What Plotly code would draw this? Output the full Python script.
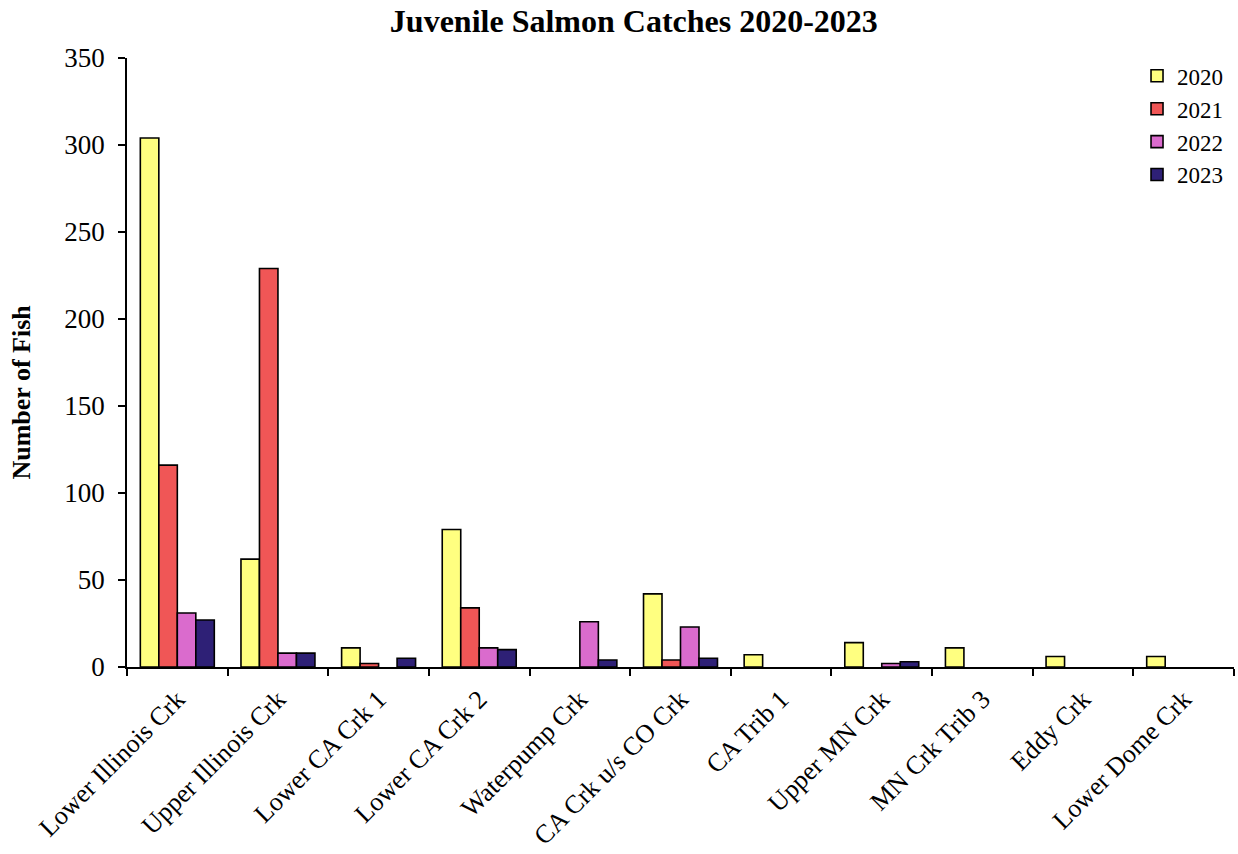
import plotly.graph_objects as go

sites = ["Lower Illinois Crk", "Upper Illinois Crk", "Lower CA Crk 1", "Lower CA Crk 2",
         "Waterpump Crk", "CA Crk u/s CO Crk", "CA Trib 1", "Upper MN Crk",
         "MN Crk Trib 3", "Eddy Crk", "Lower Dome Crk"]
y2020 = [304, 62, 11, 79, 0, 42, 7, 14, 11, 6, 6]
y2021 = [116, 229, 2, 34, 0, 4, 0, 0, 0, 0, 0]
y2022 = [31, 8, 0, 11, 26, 23, 0, 2, 0, 0, 0]
y2023 = [27, 8, 5, 10, 4, 5, 0, 3, 0, 0, 0]
years = ["2020", "2021", "2022", "2023"]
colors = ["#FFFF80", "#F05656", "#DA6BCD", "#2E2076"]

FONT = "Liberation Serif"

fig = go.Figure()
for name, vals, col in zip(years, [y2020, y2021, y2022, y2023], colors):
    fig.add_trace(go.Bar(
        x=sites, y=[v if v else None for v in vals], name=name,
        marker=dict(color=col, line=dict(color="black", width=1.6)),
    ))

fig.update_layout(
    width=1238, height=854,
    margin=dict(l=127, r=4, t=58, b=187),
    paper_bgcolor="white", plot_bgcolor="white",
    barmode="group", bargap=0.265, bargroupgap=0,
    font=dict(family=FONT, size=24, color="black"),
    title=dict(text="<b>Juvenile Salmon Catches 2020-2023</b>", x=0.512, xanchor="center",
               y=0.976, yanchor="middle", font=dict(family=FONT, size=32, color="black")),
    legend=dict(x=0.9946, xanchor="right", y=1.006, yanchor="top", bgcolor="rgba(0,0,0,0)",
                font=dict(family=FONT, size=23, color="black"), traceorder="normal",
                itemwidth=30),
    showlegend=True,
)
fig.update_xaxes(
    type="category", showline=True, linecolor="black", linewidth=1.5,
    ticks="outside", tickson="boundaries", ticklen=7, tickwidth=1.5, tickcolor="black",
    tickangle=-45, showgrid=False, tickfont=dict(family=FONT, size=26, color="black"),
    ticklabelstandoff=5,
)
fig.update_yaxes(
    range=[0, 350], dtick=50, showline=True, linecolor="black", linewidth=1.5,
    ticks="outside", ticklen=7, tickwidth=1.5, tickcolor="black", showgrid=False,
    zeroline=False, tickfont=dict(family=FONT, size=27, color="black"),
    ticklabelstandoff=8,
)
fig.add_annotation(text="<b>Number of Fish</b>", textangle=-90, xref="paper", yref="paper",
                   x=-0.095, y=0.452, xanchor="center", yanchor="middle", showarrow=False,
                   font=dict(family=FONT, size=26, color="black"))

fig.write_html("out.html")
